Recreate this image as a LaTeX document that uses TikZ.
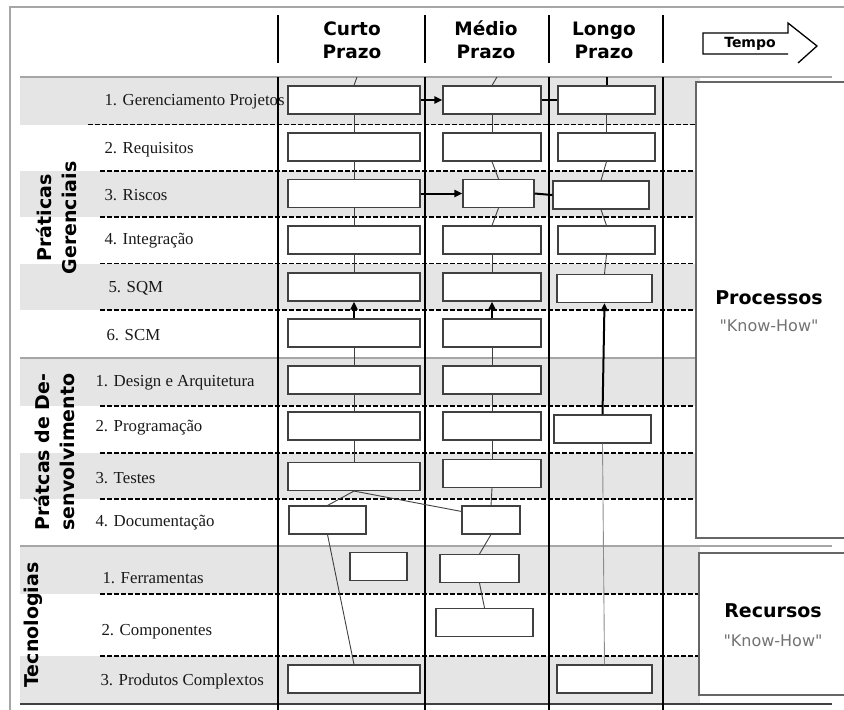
\documentclass[tikz,border=0pt]{standalone}
\usepackage{fontspec}
\setmainfont{Liberation Serif}
\newfontfamily\vfont{DejaVu Sans}
\usetikzlibrary{arrows.meta}

\begin{document}
\begin{tikzpicture}[x=1pt,y=-1pt]
\tikzset{s/.style={draw=black!75,line width=1.1pt,fill=white,rectangle,minimum height=28pt,inner sep=0pt},
lk/.style={black!75,line width=0.9pt},
ar/.style={line width=2pt,-{Triangle[length=8pt,width=7pt]}},
tr/.style={line width=2pt},
dl/.style={dash pattern=on 4.5pt off 2.5pt,line width=1.3pt},
rot/.style={rotate=90,align=center,font=\vfont\bfseries\fontsize{19}{25}\selectfont},
hd/.style={align=center,font=\vfont\bfseries\fontsize{18.5}{23}\selectfont},
it/.style={anchor=west,font=\fontsize{16.8}{18}\selectfont,text=black!90},
pb/.style={draw=black!60,line width=1.3pt,fill=white,inner sep=0pt}}
\useasboundingbox (0,0) rectangle (844,710);
%% faixas cinzentas
\foreach \a/\b in {78/124.5,171/217,263.5/310,358/406,453/499,546/594,656/704}
\fill[black!10](20,\a)rectangle(700,\b);
%% moldura
\draw[gray!70,line width=2.5pt](10,710)--(10,7)--(844,7);
\draw[gray!70,line width=2.5pt](20,77)--(832,77);
\draw[gray!70,line width=2pt](20,358)--(700,358);
\draw[gray!70,line width=2pt](20,546)--(832,546);
\draw[black!75,line width=1.2pt](20,704)--(832,704);
%% linhas tracejadas
\draw[dl](88,124.5)--(700,124.5);
\foreach \y in {171,217,263.5,310,406,453,499,594,656}
\draw[dl](100,\y)--(700,\y);
%% itens
\foreach \n/\x/\y/\t in {
g1/101/102/1. Gerenciamento Projetos,g2/101/150/2. Requisitos,g3/101/195/3. Riscos,
g4/101/241/4. Integração,g5/105/288/5. SQM,g6/103/335/6. SCM,
d1/92/383/1. Design e Arquitetura,d2/92/428/2. Programação,d3/92/478/3. Testes,
d4/92/523/4. Documentação,
t1/99/578/1. Ferramentas,t2/98/632/2. Componentes,t3/97/681/3. Produtos Complextos}
\node[it](\n) at (\x,\y){\t};
%% colunas
\foreach \x in {278,425,549,663}{
\draw[line width=1.2pt](\x,15)--(\x,63);
\draw[line width=1.2pt](\x,77)--(\x,710);}
%% cabecalho
\node[hd](curto) at (352,40){Curto\\Prazo};
\node[hd](medio) at (486,40){Médio\\Prazo};
\node[hd](longo) at (604,40){Longo\\Prazo};
\draw[line width=1.3pt](788,54)--(703,54)--(703,33)--(788,33)--(788,23)--(817,46)--(798,63);
\node[font=\vfont\bfseries\fontsize{14}{17}\selectfont](tempo) at (750,44){Tempo};
%% grupos
\node[rot](gerenc) at (57,218){Práticas\\Gerenciais};
\node[rot](desenv) at (55,452){Prátcas de De-\\senvolvimento};
\node[rot](tecno) at (33,625){Tecnologias};
%% caixas
\foreach \n/\x/\y/\w in {
C1/354/100/132,M1/492/100/98,L1/606.5/100/97,
C2/354/147/132,M2/492/147/98,L2/606.5/147/97,
C3/354/193.5/132,M3/498.5/193.5/71,L3/601/195/96,
C4/354/240/132,M4/492/240/98,L4/606.5/240/97,
C5/354/287/132,M5/492/287/98,L5/604.5/288.5/95,
C6/354/333/132,M6/492/333/98,
C7/354/380/132,M7/492/380/98,
C8/354/426/132,M8/492/426/98,L8/602.5/429/97,
C9/354/476.5/132,M9/492/473.5/98,
C10/327.5/520/77,M10/491/520/58,
C11/378.5/566.5/57,M11/479.5/568.5/79,
M12/484.5/622.5/97,
C13/354/679/132,L13/604.5/679/95}
\node[s,minimum width=\w pt](\n) at (\x,\y){};
%% ligacoes
\coordinate(tC) at (357,77);
\coordinate(tM) at (497,77);
\coordinate(tL) at (606.5,77);
\draw[lk](tC)--(C1.north);
\draw[lk](tM)--(M1.north);
\draw[tr](tL)--(L1.north);
\foreach \a/\b in {
C1/C2,C2/C3,C3/C4,C4/C5,C6/C7,C7/C8,C8/C9,C9/C10,C10/C13,
M1/M2,M2/M3,M3/M4,M4/M5,M6/M7,M7/M8,M8/M9,M9/M10,M10/M11,M11/M12,
L1/L2,L2/L3,L3/L4,L4/L5}
\draw[lk](\a.south)--(\b.north);
\draw[lk](C9.south)--([yshift=-6pt]M10.north west);
\draw[black!45,line width=0.9pt](L8.south)--(L13.north);
\foreach \a/\b in {C6/C5,M6/M5,L8/L5}
\draw[ar](\a.north)--(\b.south);
\draw[ar](C1.east)--(M1.west);
\draw[ar](C3.east)--(M3.west);
\draw[tr](M1.east)--(L1.west);
\draw[tr](M3.east)--(L3.west);
%% processos e recursos
\node[pb,minimum width=154pt,minimum height=456pt](proc) at (773,310){};
\node[pb,minimum width=151pt,minimum height=142pt](recur) at (774.5,624){};
\node[font=\vfont\bfseries\fontsize{19}{22}\selectfont](proct) at (769,298){Processos};
\node[font=\vfont\fontsize{16}{18}\selectfont,text=black!55](prock) at (769,326){"Know-How"};
\node[font=\vfont\bfseries\fontsize{19}{22}\selectfont](recurt) at (773,611){Recursos};
\node[font=\vfont\fontsize{16}{18}\selectfont,text=black!55](recurk) at (773,641){"Know-How"};
\end{tikzpicture}
\end{document}
